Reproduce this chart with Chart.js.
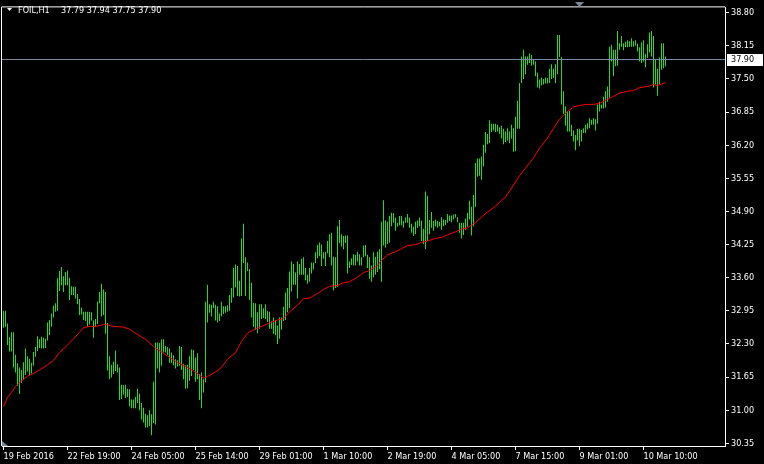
<!DOCTYPE html>
<html>
<head>
<meta charset="utf-8">
<title>FOIL,H1</title>
<script src="https://cdn.jsdelivr.net/npm/chart.js@4.4.0/dist/chart.umd.min.js"></script>
<style>
  html, body { margin: 0; padding: 0; background: #000; }
  #chart { display: block; }
</style>
</head>
<body>
<canvas id="chart" width="764" height="464"></canvas>
<script>
// FOIL H1 bars, 19 Feb - 10 Mar 2016 (one entry per bar)
var highs = [
  32.95, 32.95, 32.70, 32.43, 32.53, 32.53, 32.09, 31.92, 31.84, 31.79,
  31.94, 32.21, 32.06, 32.01, 31.93, 32.14, 32.24, 32.45, 32.39, 32.44,
  32.42, 32.40, 32.72, 32.77, 32.90, 33.05, 33.10, 33.59, 33.73, 33.81,
  33.63, 33.71, 33.74, 33.60, 33.43, 33.42, 33.42, 33.28, 33.18, 33.01,
  32.93, 32.93, 32.93, 32.93, 32.92, 32.76, 32.79, 33.13, 33.32, 33.48,
  33.37, 33.32, 32.71, 32.06, 31.89, 31.95, 32.17, 31.90, 31.84, 31.50,
  31.49, 31.50, 31.42, 31.41, 31.21, 31.21, 31.26, 31.42, 31.33, 31.14,
  31.05, 30.93, 30.90, 31.00, 30.92, 31.56, 32.33, 32.33, 32.32, 32.39,
  32.39, 32.26, 32.24, 32.21, 32.13, 32.08, 32.00, 31.98, 32.26, 32.24,
  31.91, 31.88, 31.89, 32.06, 32.19, 32.18, 32.03, 32.12, 31.71, 31.74,
  31.61, 33.13, 33.46, 33.08, 33.07, 33.13, 33.07, 33.04, 32.90, 33.13,
  33.04, 33.04, 33.06, 33.26, 33.40, 33.79, 33.86, 33.83, 33.54, 34.37,
  34.66, 34.00, 33.90, 33.77, 33.50, 33.11, 33.10, 32.92, 33.08, 33.08,
  33.00, 33.08, 32.95, 32.93, 32.74, 32.82, 32.77, 32.66, 32.82, 32.82,
  33.03, 33.31, 33.40, 33.72, 33.92, 33.87, 33.70, 33.92, 33.87, 33.97,
  34.00, 33.79, 33.66, 33.79, 33.90, 33.90, 34.10, 34.24, 34.29, 34.25,
  34.10, 34.11, 34.32, 34.45, 34.48, 34.01, 34.00, 34.61, 34.73, 34.45,
  34.42, 34.43, 34.43, 33.92, 33.98, 34.06, 34.05, 34.11, 34.06, 34.00,
  34.23, 34.24, 34.05, 34.00, 33.84, 34.10, 34.01, 34.11, 34.16, 34.70,
  35.12, 34.72, 34.70, 34.81, 34.87, 34.87, 34.78, 34.68, 34.81, 34.81,
  34.71, 34.78, 34.85, 34.78, 34.66, 34.60, 34.70, 34.72, 34.78, 34.72,
  34.56, 35.29, 35.21, 34.73, 34.89, 34.71, 34.74, 34.71, 34.70, 34.79,
  34.74, 34.73, 34.85, 34.82, 34.82, 34.84, 34.85, 34.79, 34.68, 34.68,
  34.68, 34.76, 34.87, 35.11, 34.99, 35.22, 35.85, 35.94, 35.94, 35.98,
  36.21, 36.46, 36.42, 36.69, 36.62, 36.62, 36.62, 36.60, 36.55, 36.58,
  36.52, 36.47, 36.53, 36.47, 36.60, 36.53, 36.76, 37.07, 37.42, 37.94,
  38.07, 37.94, 37.94, 38.00, 37.97, 37.88, 37.84, 37.62, 37.49, 37.53,
  37.50, 37.53, 37.52, 37.70, 37.79, 37.70, 37.79, 38.36, 38.36, 37.93,
  37.26, 36.96, 36.87, 36.87, 36.60, 36.49, 36.40, 36.52, 36.52, 36.50,
  36.53, 36.60, 36.63, 36.73, 36.70, 36.73, 36.71, 37.00, 37.05, 37.00,
  37.15, 37.26, 37.35, 38.13, 38.17, 38.07, 38.07, 38.44, 38.20, 38.34,
  38.20, 38.23, 38.26, 38.24, 38.30, 38.24, 38.26, 38.19, 38.12, 38.22,
  38.26, 37.99, 38.18, 38.41, 38.44, 38.34, 37.88, 37.70, 37.92, 38.20,
  38.20, 37.94
];
var lows = [
  32.62, 32.64, 32.28, 32.15, 32.15, 31.84, 31.74, 31.48, 31.32, 31.54,
  31.61, 31.69, 31.76, 31.69, 31.72, 31.87, 32.05, 32.16, 32.22, 32.21,
  32.21, 32.22, 32.37, 32.47, 32.64, 32.82, 32.93, 32.95, 33.34, 33.45,
  33.32, 33.45, 33.45, 33.16, 33.26, 33.26, 33.19, 33.08, 32.87, 32.88,
  32.77, 32.75, 32.64, 32.68, 32.76, 32.42, 32.64, 32.69, 33.10, 32.84,
  32.87, 32.50, 31.78, 31.61, 31.64, 31.71, 31.77, 31.74, 31.20, 31.22,
  31.31, 31.24, 31.26, 31.08, 31.04, 31.04, 31.04, 31.14, 31.00, 30.82,
  30.76, 30.66, 30.66, 30.69, 30.51, 30.75, 30.72, 31.82, 31.74, 31.87,
  32.13, 32.13, 32.09, 31.93, 31.93, 31.88, 31.82, 31.86, 31.87, 31.79,
  31.61, 31.42, 31.43, 31.58, 31.67, 31.79, 31.56, 31.61, 31.20, 31.04,
  31.35, 31.55, 32.72, 32.91, 32.84, 33.00, 32.76, 32.72, 32.75, 32.84,
  32.89, 32.91, 32.93, 32.95, 33.11, 33.21, 33.41, 33.24, 33.23, 33.24,
  33.89, 33.24, 33.73, 33.16, 32.82, 32.64, 32.58, 32.51, 32.60, 32.79,
  32.81, 32.79, 32.73, 32.60, 32.60, 32.50, 32.47, 32.30, 32.40, 32.58,
  32.75, 32.77, 32.92, 33.00, 33.33, 33.46, 33.46, 33.19, 33.66, 33.66,
  33.66, 33.55, 33.48, 33.52, 33.68, 33.76, 33.89, 33.98, 34.02, 33.83,
  33.97, 33.83, 34.08, 34.00, 33.84, 33.35, 33.40, 33.42, 34.28, 34.21,
  34.16, 34.28, 33.68, 33.79, 33.85, 33.84, 33.84, 33.92, 33.84, 33.84,
  34.00, 34.02, 33.79, 33.58, 33.52, 33.61, 33.66, 33.71, 33.77, 33.52,
  34.23, 34.19, 34.26, 34.29, 34.61, 34.68, 34.52, 34.60, 34.63, 34.63,
  34.58, 34.68, 34.68, 34.58, 34.48, 34.42, 34.45, 34.58, 34.61, 34.32,
  34.26, 34.16, 34.32, 34.45, 34.58, 34.52, 34.61, 34.58, 34.61, 34.54,
  34.61, 34.63, 34.68, 34.71, 34.69, 34.74, 34.78, 34.69, 34.48, 34.37,
  34.44, 34.54, 34.60, 34.74, 34.43, 34.61, 34.99, 35.58, 35.60, 35.52,
  35.78, 36.05, 36.22, 36.24, 36.46, 36.49, 36.46, 36.47, 36.42, 36.33,
  36.22, 36.26, 36.29, 36.24, 36.33, 36.07, 36.08, 36.52, 36.52, 37.42,
  37.50, 37.59, 37.78, 37.81, 37.76, 37.78, 37.55, 37.33, 37.31, 37.37,
  37.39, 37.41, 37.41, 37.42, 37.50, 37.52, 37.42, 37.59, 37.93, 37.00,
  36.81, 36.58, 36.47, 36.47, 36.38, 36.27, 36.10, 36.29, 36.18, 36.27,
  36.44, 36.44, 36.51, 36.53, 36.60, 36.60, 36.49, 36.62, 36.86, 36.92,
  36.92, 36.94, 37.05, 37.13, 37.84, 37.55, 37.75, 37.76, 38.07, 38.13,
  38.06, 38.12, 38.12, 38.13, 38.13, 38.13, 38.15, 38.04, 37.84, 37.81,
  37.84, 37.73, 37.91, 38.02, 37.94, 37.33, 37.39, 37.17, 37.40, 37.68,
  37.71, 37.75
];

// moving average (red line), read at these bar numbers
var maBars = [0, 2, 4, 6, 8, 12, 15, 18, 22, 25, 28, 32, 35, 38, 40, 42, 45, 48, 50, 52,
  54, 57, 60, 63, 66, 71, 76, 81, 86, 91, 96, 100, 102, 106, 109, 112, 116, 119, 122, 125,
  127, 130, 133, 137, 140, 143, 147, 150, 153, 157, 160, 163, 167, 170, 173, 177, 180, 183, 187, 189,
  192, 196, 199, 202, 206, 209, 212, 216, 219, 222, 226, 229, 232, 236, 239, 242, 246, 249, 251, 258,
  265, 268, 272, 275, 278, 282, 285, 288, 292, 295, 298, 302, 305, 308, 312, 315, 318, 322, 325, 327,
  329, 331];
var maValues = [31.07, 31.25, 31.35, 31.46, 31.54, 31.67, 31.72, 31.79, 31.89, 31.98, 32.13, 32.28, 32.40, 32.53, 32.62, 32.64, 32.64, 32.66, 32.68, 32.68,
  32.65, 32.64, 32.63, 32.59, 32.51, 32.39, 32.22, 32.09, 31.96, 31.86, 31.75, 31.63, 31.66, 31.75, 31.84, 32.00, 32.13, 32.35, 32.51, 32.58,
  32.61, 32.66, 32.71, 32.77, 32.80, 32.93, 33.06, 33.19, 33.20, 33.29, 33.37, 33.43, 33.45, 33.50, 33.52, 33.61, 33.70, 33.74, 33.84, 33.94,
  34.05, 34.11, 34.17, 34.23, 34.25, 34.29, 34.32, 34.37, 34.39, 34.44, 34.50, 34.55, 34.58, 34.68, 34.79, 34.89, 35.00, 35.12, 35.18, 35.60,
  35.95, 36.14, 36.34, 36.53, 36.71, 36.86, 36.95, 36.98, 37.00, 37.00, 37.02, 37.10, 37.16, 37.22, 37.26, 37.27, 37.33, 37.35, 37.39, 37.37,
  37.40, 37.43];

// time axis: a label every 32 bars
var xLabels = ['19 Feb 2016', '22 Feb 19:00', '24 Feb 05:00', '25 Feb 14:00', '29 Feb 01:00', '1 Mar 10:00',
  '2 Mar 19:00', '4 Mar 05:00', '7 Mar 15:00', '9 Mar 01:00', '10 Mar 10:00'];
var xLabelBars = [0, 32, 64, 96, 128, 160, 192, 224, 256, 288, 320];

// price axis
var yTicks = [30.35, 31.00, 31.65, 32.30, 32.95, 33.60, 34.25, 34.90, 35.55, 36.20, 36.85, 37.50, 38.15, 38.80];

var symbol = 'FOIL,H1';
var lastBar = [37.79, 37.94, 37.75, 37.90]; // open high low close
var bidPrice = 37.90;

var FONT = "'DejaVu Sans Condensed', 'DejaVu Sans', sans-serif";
var BAR_COLOR = '#22dd22';
var FRAME = '#ffffff';

var barData = highs.map(function (h, i) { return { x: i, y: [lows[i], h] }; });
var maData = maBars.map(function (b, k) { return { x: b, y: maValues[k] }; });

// frame, bid line, price box, header and the little markers
var terminalLook = {
  id: 'terminalLook',
  afterDatasetsDraw: function (chart) {
    var ctx = chart.ctx;
    var a = chart.chartArea;
    var y = Math.round(chart.scales.y.getPixelForValue(bidPrice)) + 0.5;
    ctx.save();
    ctx.strokeStyle = '#778899';
    ctx.lineWidth = 1;
    ctx.beginPath();
    ctx.moveTo(a.left, y);
    ctx.lineTo(a.right, y);
    ctx.stroke();
    ctx.restore();
  },
  afterDraw: function (chart) {
    var ctx = chart.ctx;
    var a = chart.chartArea;
    ctx.save();
    // left and top edges of the frame
    ctx.strokeStyle = FRAME;
    ctx.lineWidth = 1;
    ctx.beginPath();
    ctx.moveTo(a.left - 0.5, a.bottom);
    ctx.lineTo(a.left - 0.5, a.top - 0.5);
    ctx.lineTo(a.right, a.top - 0.5);
    ctx.stroke();

    // bid price box on the price scale
    var y = Math.round(chart.scales.y.getPixelForValue(bidPrice));
    ctx.fillStyle = '#ffffff';
    ctx.fillRect(a.right + 2, y - 5, 36, 12);
    ctx.fillStyle = '#000000';
    ctx.font = '9px ' + FONT;
    ctx.textBaseline = 'middle';
    ctx.fillText(bidPrice.toFixed(2), a.right + 6, y + 1);

    // header
    ctx.fillStyle = '#ffffff';
    ctx.beginPath();
    ctx.moveTo(7, 8);
    ctx.lineTo(12, 8);
    ctx.lineTo(9.5, 11);
    ctx.closePath();
    ctx.fill();
    ctx.textBaseline = 'alphabetic';
    ctx.fillText(symbol, 18, 13);
    ctx.fillText(lastBar.map(function (v) { return v.toFixed(2); }).join(' '), 61, 13);

    // chart shift marker and the scroll marker
    ctx.fillStyle = '#778899';
    ctx.beginPath();
    ctx.moveTo(575, 2);
    ctx.lineTo(584, 2);
    ctx.lineTo(579.5, 7);
    ctx.closePath();
    ctx.fill();
    ctx.beginPath();
    ctx.moveTo(a.left, a.bottom - 5);
    ctx.lineTo(a.left, a.bottom);
    ctx.lineTo(a.left + 6, a.bottom);
    ctx.closePath();
    ctx.fill();
    ctx.restore();
  }
};

var chart = new Chart(document.getElementById('chart'), {
  type: 'bar',
  data: {
    datasets: [
      {
        type: 'line',
        data: maData,
        borderColor: '#ff0000',
        borderWidth: 1,
        pointRadius: 0,
        tension: 0,
        order: 0
      },
      {
        data: barData,
        backgroundColor: BAR_COLOR,
        borderWidth: 0,
        barThickness: 1,
        inflateAmount: 0,
        grouped: false,
        order: 1
      }
    ]
  },
  options: {
    responsive: false,
    animation: false,
    devicePixelRatio: 1,
    layout: { padding: { top: 2, left: 2, right: 0, bottom: 0 } },
    plugins: { legend: { display: false }, tooltip: { enabled: false } },
    scales: {
      x: {
        type: 'linear',
        offset: false,
        bounds: 'ticks',
        min: -0.75,
        max: 360.75,
        afterBuildTicks: function (scale) {
          scale.ticks = xLabelBars.map(function (b) { return { value: b }; });
        },
        afterFit: function (scale) { scale.height = 18; },
        grid: { drawOnChartArea: false, drawTicks: true, tickLength: 4, color: FRAME, offset: false },
        border: { display: true, color: FRAME },
        ticks: {
          autoSkip: false,
          maxRotation: 0,
          align: 'start',
          padding: 1,
          color: '#ffffff',
          font: { family: FONT, size: 9 },
          callback: function (v) { return xLabels[xLabelBars.indexOf(v)]; }
        }
      },
      y: {
        position: 'right',
        min: 30.298,
        max: 38.903,
        afterBuildTicks: function (scale) {
          scale.ticks = yTicks.map(function (v) { return { value: v }; });
        },
        afterFit: function (scale) { scale.width = 39; },
        grid: { drawOnChartArea: false, drawTicks: true, tickLength: 4, color: FRAME },
        border: { display: true, color: FRAME },
        ticks: {
          padding: 2,
          color: '#ffffff',
          font: { family: FONT, size: 9 },
          callback: function (v) { return v.toFixed(2); }
        }
      }
    }
  },
  plugins: [terminalLook]
});
</script>
</body>
</html>
